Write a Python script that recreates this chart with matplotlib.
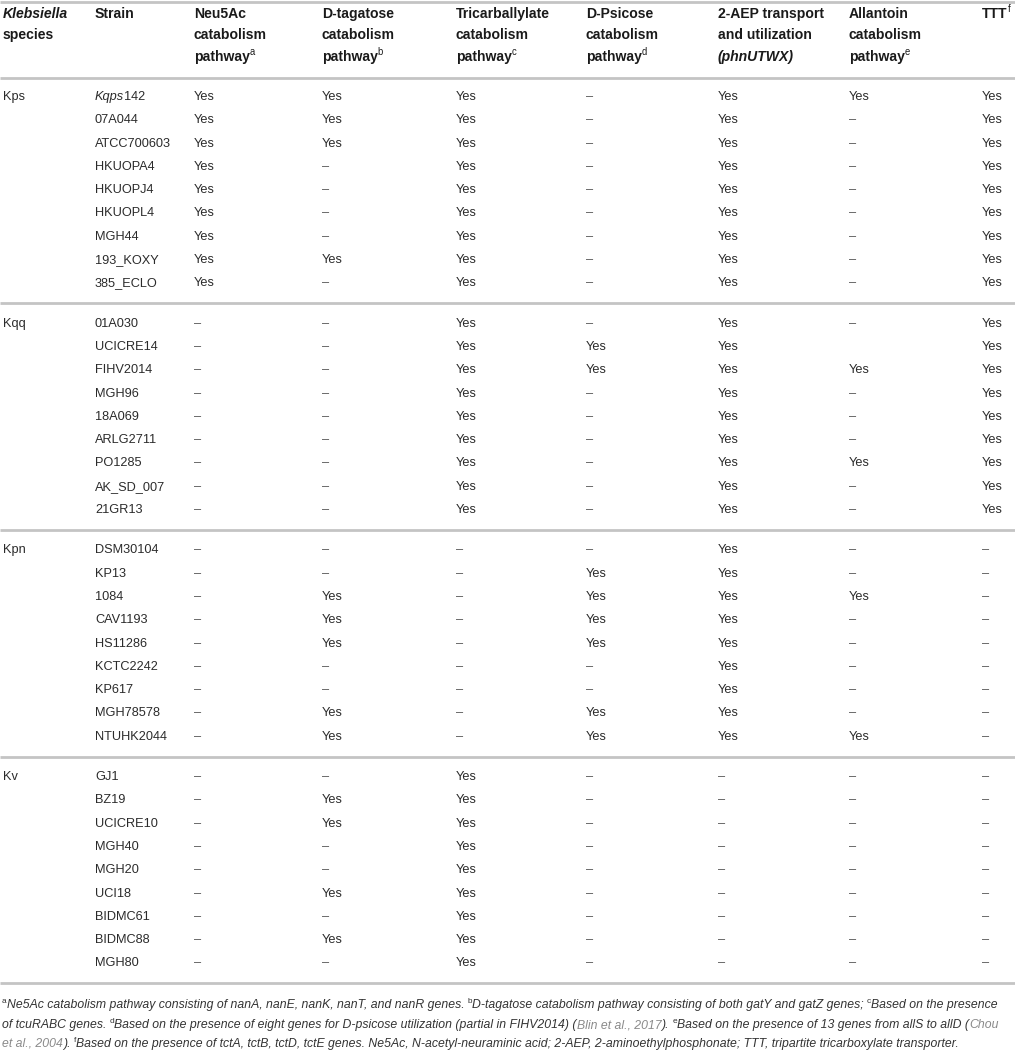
import matplotlib
matplotlib.use("Agg")
import matplotlib.pyplot as plt

# ---- table content ----
species = ["Kps", "Kqq", "Kpn", "Kv"]
strains = [
    ["Kqps142", "07A044", "ATCC700603", "HKUOPA4", "HKUOPJ4", "HKUOPL4", "MGH44", "193_KOXY", "385_ECLO"],
    ["01A030", "UCICRE14", "FIHV2014", "MGH96", "18A069", "ARLG2711", "PO1285", "AK_SD_007", "21GR13"],
    ["DSM30104", "KP13", "1084", "CAV1193", "HS11286", "KCTC2242", "KP617", "MGH78578", "NTUHK2044"],
    ["GJ1", "BZ19", "UCICRE10", "MGH40", "MGH20", "UCI18", "BIDMC61", "BIDMC88", "MGH80"],
]
# Y = Yes, - = dash, space = empty ; one string per group, 9 rows each
neu5ac    = ["YYYYYYYYY", "---------", "---------", "---------"]
tagatose  = ["YYY----Y-", "---------", "--YYY--YY", "-YY--Y-Y-"]
tricarb   = ["YYYYYYYYY", "YYYYYYYYY", "---------", "YYYYYYYYY"]
psicose   = ["---------", "-YY------", "-YYYY--YY", "---------"]
aep       = ["YYYYYYYYY", "YYYYYYYYY", "YYYYYYYYY", "---------"]
allantoin = ["Y--------", "- Y---Y--", "--Y-----Y", "---------"]
ttt       = ["YYYYYYYYY", "YYYYYYYYY", "---------", "---------"]
columns = [neu5ac, tagatose, tricarb, psicose, aep, allantoin, ttt]
codes = {"Y": "Yes", "-": "\u2013", " ": ""}

# header lines: list of runs (text, style) ; style: b=bold, bi=bold italic, sup=superscript
headers = [
    [[("Klebsiella", "bi")], [("species", "b")]],
    [[("Strain", "b")]],
    [[("Neu5Ac", "b")], [("catabolism", "b")], [("pathway", "b"), ("a", "sup")]],
    [[("D-tagatose", "b")], [("catabolism", "b")], [("pathway", "b"), ("b", "sup")]],
    [[("Tricarballylate", "b")], [("catabolism", "b")], [("pathway", "b"), ("c", "sup")]],
    [[("D-Psicose", "b")], [("catabolism", "b")], [("pathway", "b"), ("d", "sup")]],
    [[("2-AEP transport", "b")], [("and utilization", "b")], [("(phnUTWX)", "bi")]],
    [[("Allantoin", "b")], [("catabolism", "b")], [("pathway", "b"), ("e", "sup")]],
    [[("TTT", "b"), ("f", "sup")]],
]

footnotes = [
    [("a", "sup"), ("Ne5Ac catabolism pathway consisting of nanA, nanE, nanK, nanT, and nanR genes. ", "i"),
     ("b", "sup"), ("D-tagatose catabolism pathway consisting of both gatY and gatZ genes; ", "i"),
     ("c", "sup"), ("Based on the presence", "i")],
    [("of tcuRABC genes. ", "i"), ("d", "sup"),
     ("Based on the presence of eight genes for D-psicose utilization (partial in FIHV2014) (", "i"),
     ("Blin et al., 2017", "ig"), ("). ", "i"), ("e", "sup"),
     ("Based on the presence of 13 genes from allS to allD (", "i"), ("Chou", "ig")],
    [("et al., 2004", "ig"), ("). ", "i"), ("f", "sup"),
     ("Based on the presence of tctA, tctB, tctD, tctE genes. Ne5Ac, N-acetyl-neuraminic acid; "
      "2-AEP, 2-aminoethylphosphonate; TTT, tripartite tricarboxylate transporter.", "i")],
]

plt.rcParams["font.family"] = ["Liberation Sans", "DejaVu Sans"]

W, H = 1015, 1054
fig = plt.figure(figsize=(W / 100, H / 100), dpi=100)
ax = fig.add_axes([0, 0, 1, 1])
ax.set_xlim(0, W)
ax.set_ylim(H, 0)
ax.axis("off")
renderer = fig.canvas.get_renderer()

col_x = [3, 95, 194, 322, 456, 586, 718, 849, 982]
header_y = [14, 35, 57]
row0, pitch, group_step = 97, 23.3, 226.7
rule_color = "#c4c4c4"
text_color = "#2b2b2b"


def draw_runs(x, y, runs, size, color=text_color):
    for txt, style in runs:
        kw = dict(fontsize=size, color=color, va="center", ha="left")
        yy = y
        if style == "sup":
            kw["fontsize"] = size * 0.68
            yy = y - size * 0.45
        if "b" in style:
            kw["fontweight"] = "bold"
        if "i" in style:
            kw["fontstyle"] = "italic"
        if style == "ig":
            kw["color"] = "#8a8a8a"
        t = ax.text(x, yy, txt, **kw)
        x += t.get_window_extent(renderer).width
    return x


# header
for cx, lines in zip(col_x, headers):
    for ly, runs in zip(header_y, lines):
        draw_runs(cx, ly, runs, 10.1, color="#1a1a1a")

# rules
ax.hlines([2, 78], 0, W, color=rule_color, lw=2)

# body
for g, sp in enumerate(species):
    y_first = row0 + g * group_step
    ax.text(col_x[0], y_first, sp, fontsize=9.2, color=text_color, va="center")
    for r, strain in enumerate(strains[g]):
        y = y_first + r * pitch
        if strain.startswith("Kqps"):
            draw_runs(col_x[1], y, [("Kqps", "i"), ("142", "")], 9.2)
        else:
            ax.text(col_x[1], y, strain, fontsize=9.2, color=text_color, va="center")
        for c, col in enumerate(columns):
            val = codes[col[g][r]]
            ax.text(col_x[c + 2], y, val, fontsize=9.2, va="center",
                    color=text_color if val == "Yes" else "#555555")
    if g < len(species) - 1:
        ax.hlines(y_first + 8 * pitch + 20, 0, W, color=rule_color, lw=2)
ax.hlines(983, 0, W, color=rule_color, lw=2)

# footnotes
for ly, runs in zip([1005, 1025, 1044], footnotes):
    draw_runs(2, ly, runs, 8.8, color="#333333")

fig.savefig("out.png", dpi=100)
